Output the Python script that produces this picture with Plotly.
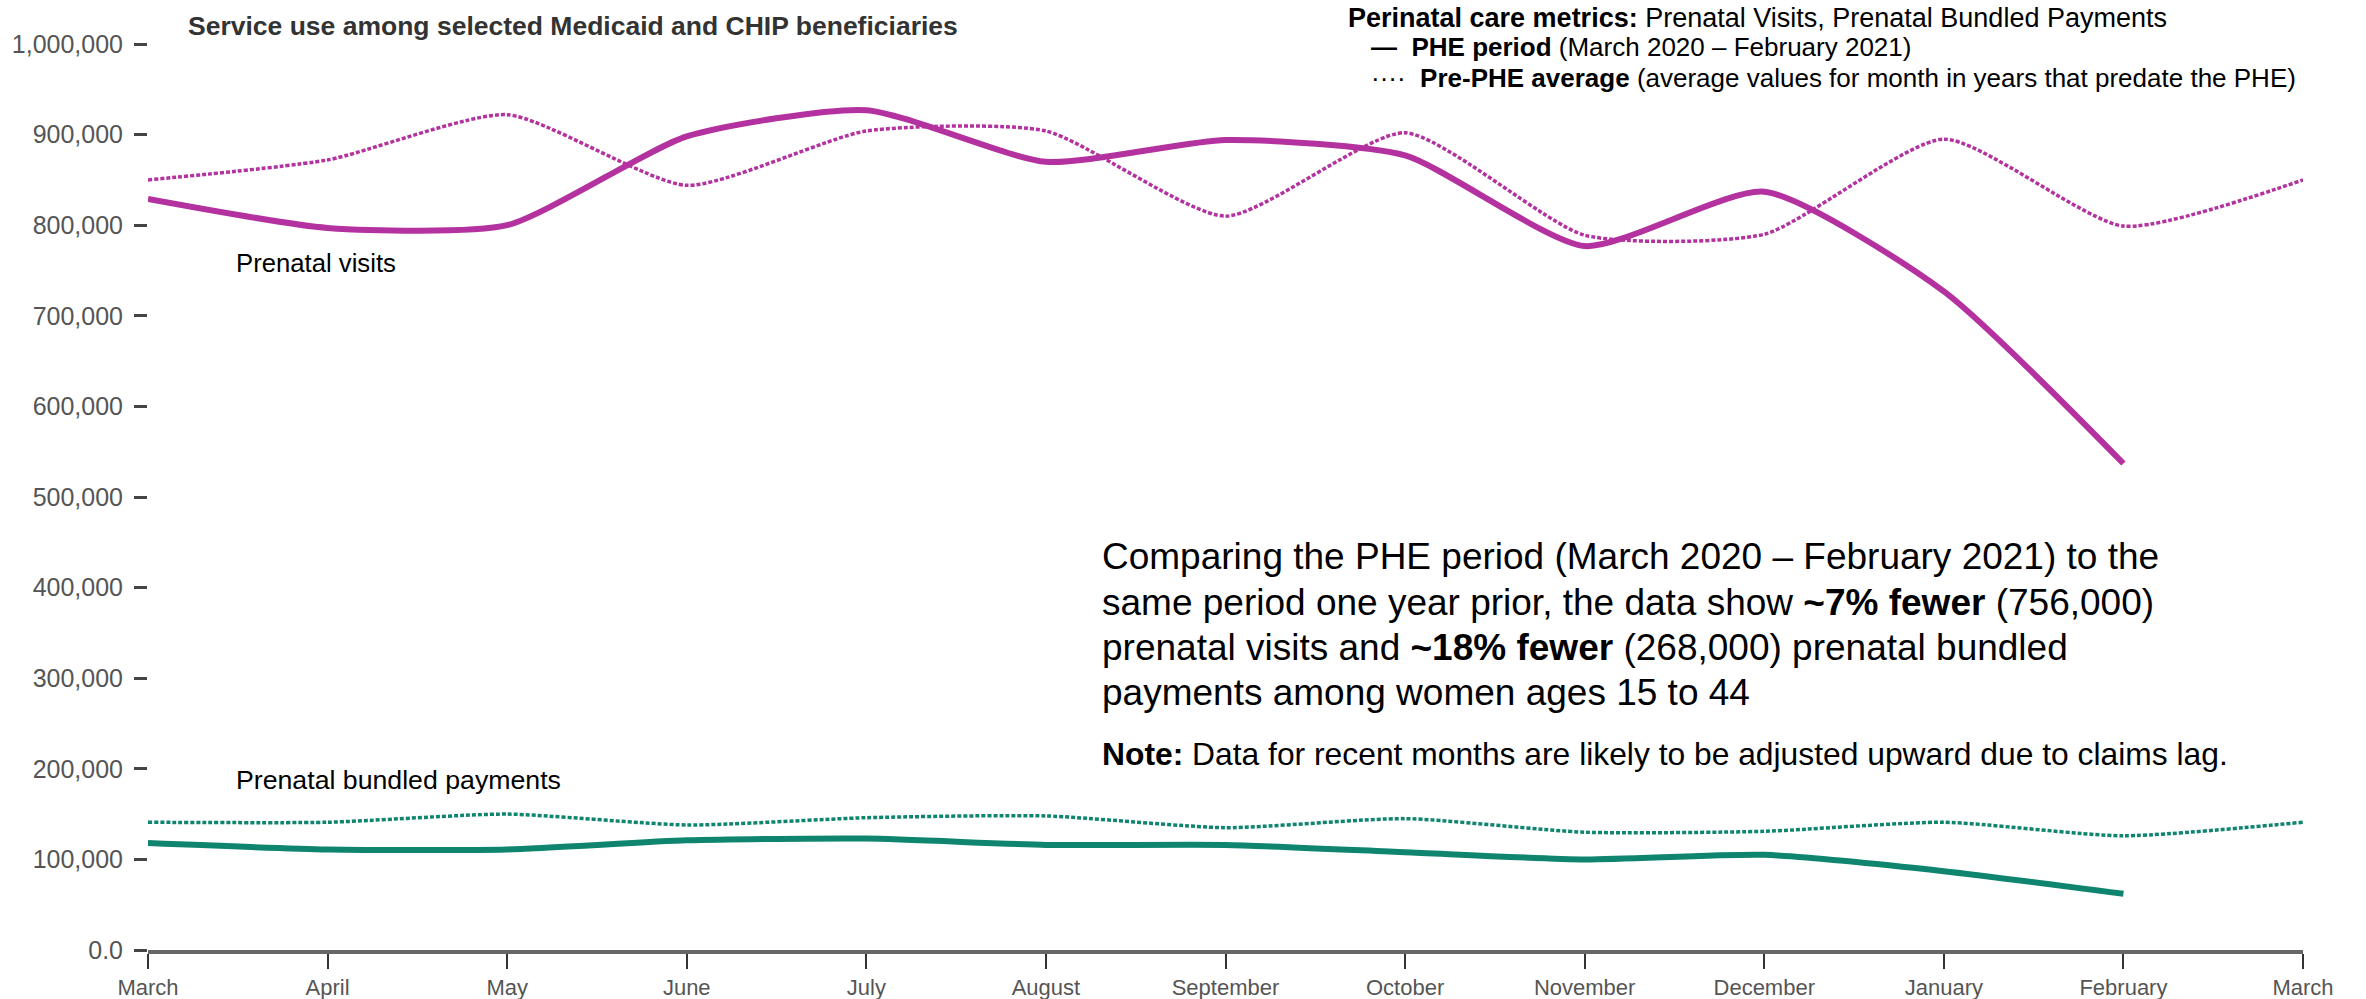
import plotly.graph_objects as go

months = ['March', 'April', 'May', 'June', 'July', 'August', 'September',
          'October', 'November', 'December', 'January', 'February', 'March']

# values
visits_phe = [829000, 797000, 800000, 898000, 927000, 870000, 894000,
              877000, 777000, 837000, 727000, 537000]
visits_pre = [850000, 872000, 922000, 844000, 904000, 904000, 810000,
              902000, 789000, 790000, 895000, 799000, 850000]
bundled_phe = [118000, 111000, 111000, 121000, 123000, 116000, 116000,
               108000, 100000, 105000, 87000, 62000]
bundled_pre = [141000, 141000, 150000, 138000, 146000, 148000, 135000,
               145000, 130000, 131000, 141000, 126000, 141000]

y_ticks = [0, 100000, 200000, 300000, 400000, 500000, 600000, 700000,
           800000, 900000, 1000000]
y_ticktext = ['0.0'] + ['{:,}'.format(v) for v in y_ticks[1:]]

MAGENTA = '#b4329f'
TEAL = '#0f8570'
FONT = 'Arial, Liberation Sans, sans-serif'

x_idx = list(range(len(months)))

fig = go.Figure()
fig.add_trace(go.Scatter(x=x_idx, y=visits_pre, mode='lines',
                         line=dict(color=MAGENTA, width=3.5, dash='4px,2px', shape='spline', smoothing=0.6)))
fig.add_trace(go.Scatter(x=x_idx[:12], y=visits_phe, mode='lines',
                         line=dict(color=MAGENTA, width=6, shape='spline', smoothing=0.6)))
fig.add_trace(go.Scatter(x=x_idx, y=bundled_pre, mode='lines',
                         line=dict(color=TEAL, width=3.5, dash='4px,2px', shape='spline', smoothing=0.6)))
fig.add_trace(go.Scatter(x=x_idx[:12], y=bundled_phe, mode='lines',
                         line=dict(color=TEAL, width=6, shape='spline', smoothing=0.6)))

fig.update_layout(width=2366, height=999, showlegend=False,
                  plot_bgcolor='white', paper_bgcolor='white',
                  margin=dict(l=148, r=63, t=44, b=49),
                  font=dict(family=FONT, color='#555555', size=22))
fig.update_xaxes(range=[0, 12], tickvals=x_idx, ticktext=months, automargin=False,
                 showgrid=False, zeroline=False, showline=True,
                 linecolor='#666666', linewidth=4,
                 ticks='outside', ticklen=15, tickwidth=1.5, tickcolor='#333333',
                 tickfont=dict(size=22, color='#555555'))
fig.update_yaxes(range=[0, 1000000], tickvals=y_ticks, ticktext=y_ticktext, automargin=False,
                 showgrid=False, zeroline=False, showline=False,
                 ticks='outside', ticklen=13, tickwidth=3, tickcolor='#444444',
                 ticklabelstandoff=6,
                 tickfont=dict(size=25, color='#555555'))

def note(x, y, text, size, color='#000000', ref='y'):
    fig.add_annotation(x=x, y=y, xref='x', yref=ref, text=text, showarrow=False,
                       xanchor='left', yanchor='middle', align='left',
                       font=dict(family=FONT, size=size, color=color))

note(0.21, 1.0199, '<b>Service use among selected Medicaid and CHIP beneficiaries</b>', 26.5, '#333333', 'paper')
note(6.67, 1.029, '<b>Perinatal care metrics:</b> Prenatal Visits, Prenatal Bundled Payments', 27, ref='paper')
note(6.80, 0.9967, '<b>—  PHE period</b> (March 2020 – February 2021)', 26, ref='paper')
note(6.80, 0.9625, '····  <b>Pre-PHE average</b> (average values for month in years that predate the PHE)', 26, ref='paper')

note(0.48, 758000, 'Prenatal visits', 25.7)
note(0.48, 188000, 'Prenatal bundled payments', 26.7)

summary = ['Comparing the PHE period (March 2020 – February 2021) to the',
           'same period one year prior, the data show <b>~7% fewer</b> (756,000)',
           'prenatal visits and <b>~18% fewer</b> (268,000) prenatal bundled',
           'payments among women ages 15 to 44']
for i, line in enumerate(summary):
    note(5.30, 434000 - i * 50000, line, 37)
note(5.30, 216000, '<b>Note:</b> Data for recent months are likely to be adjusted upward due to claims lag.', 31.8)

# drop the default body margin so the figure fills the window exactly
fig.write_html('out.html', config={'displayModeBar': False},
               post_script="document.body.style.margin='0px';")
